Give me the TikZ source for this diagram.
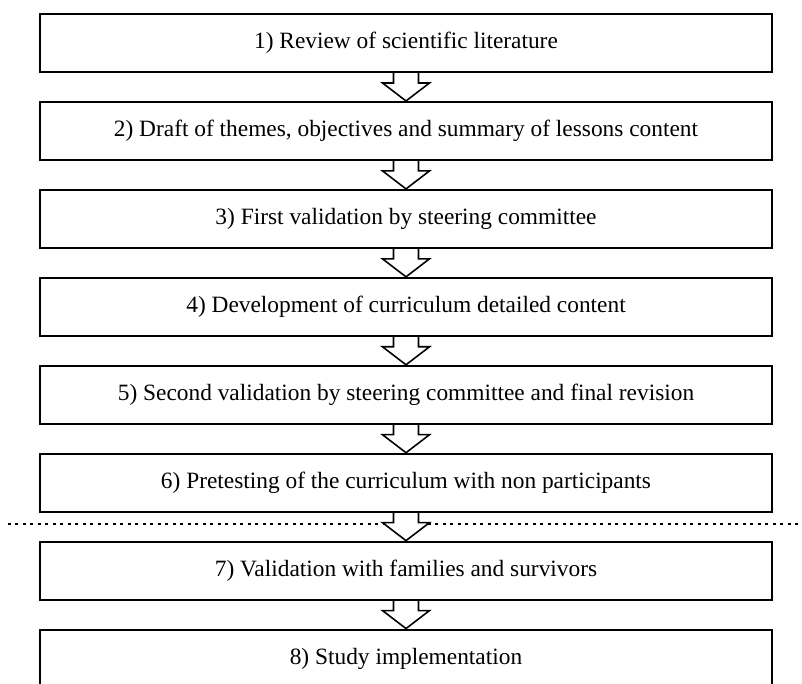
\documentclass[tikz,border=0pt]{standalone}
\usepackage{fontspec}
\setmainfont{Liberation Serif}
\usepackage{tikz}
\usetikzlibrary{positioning,calc,backgrounds}

\newcommand{\hollowArrow}[2]{%
    \draw[blockArrow] ($(#1.south)+(-0.25,0)$) -- ++(0,-0.2) -- ++(-0.22,0)
        -- (#2.north) -- ($(#1.south)+(0.47,-0.2)$) -- ++(-0.22,0) -- ($(#1.south)+(0.25,0)$);
}

\begin{document}
\begin{tikzpicture}[
    node distance=5.6mm,
    phaseBox/.style={
        rectangle,
        draw=black,
        line width=1.1pt,
        minimum width=146.4mm,
        minimum height=11.6mm,
        inner sep=0pt,
        align=center,
        font=\fontsize{13.3}{16}\selectfont
    },
    blockArrow/.style={draw=black, fill=white, line width=0.9pt, line join=miter},
    cutLine/.style={line width=1.4pt, dash pattern=on 0.06cm off 0.09cm}
]
    \useasboundingbox (0,0) rectangle (16.04,-13.68);

    \node[phaseBox] (review) at (8.12,-0.86) {1) Review of scientific literature};
    \node[phaseBox, below=of review] (draft) {2) Draft of themes, objectives and summary of lessons content};
    \node[phaseBox, below=of draft] (firstval) {3) First validation by steering committee};
    \node[phaseBox, below=of firstval] (develop) {4) Development of curriculum detailed content};
    \node[phaseBox, below=of develop] (secondval) {5) Second validation by steering committee and final revision};
    \node[phaseBox, below=of secondval] (pretest) {6) Pretesting of the curriculum with non participants};
    \node[phaseBox, below=of pretest] (famval) {7) Validation with families and survivors};
    \node[phaseBox, below=of famval] (study) {8) Study implementation};

    \begin{scope}[on background layer]
        % split between pretest and main study
        \coordinate (cut) at ($(pretest.south)!0.4!(famval.north)$);
        \draw[cutLine] ($(cut)+(-7.96,0)$) -- ($(cut)+(7.92,0)$);

        \hollowArrow{review}{draft}
        \hollowArrow{draft}{firstval}
        \hollowArrow{firstval}{develop}
        \hollowArrow{develop}{secondval}
        \hollowArrow{secondval}{pretest}
        \hollowArrow{pretest}{famval}
        \hollowArrow{famval}{study}
    \end{scope}
\end{tikzpicture}
\end{document}
